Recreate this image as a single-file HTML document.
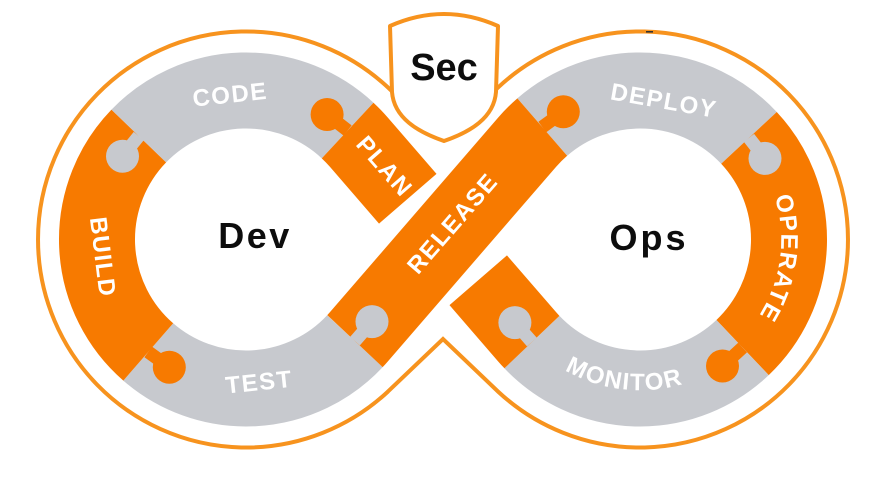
<!DOCTYPE html>
<html>
<head>
<meta charset="utf-8">
<style>
  html,body{margin:0;padding:0;background:#ffffff;}
  svg{display:block;}
  .lbl{font-family:"Liberation Sans",Arial,sans-serif;font-weight:bold;font-size:24px;fill:#ffffff;letter-spacing:1.5px;}
  .big{font-family:"Liberation Sans",Arial,sans-serif;font-weight:bold;fill:#0d0d0d;}
</style>
</head>
<body>
<svg width="872" height="482" viewBox="0 0 872 482" xmlns="http://www.w3.org/2000/svg">
  <rect x="0" y="0" width="872" height="482" fill="#ffffff"/>

  <!-- outer outline -->
  <path d="M387.9,391.6 A208,208 0 1 1 387.9,87.4 L443,140 L498.1,87.4 A208,208 0 1 1 498.1,391.6 L443,339 Z"
        fill="#ffffff" stroke="#f7931e" stroke-width="4" stroke-linejoin="miter"/>
  <rect x="646" y="31" width="7" height="1.6" fill="#333"/>

  <g fill="none" stroke-width="76" stroke-linecap="butt">
    <!-- left ring -->
    <path d="M354.97,341.12 A149,149 0 0 1 148.25,351.95" stroke="#c7c9ce"/>
    <path d="M148.25,351.95 A149,149 0 0 1 138.8,136.0" stroke="#f77a00"/>
    <path d="M138.8,136.0 A149,149 0 0 1 347.62,130.53" stroke="#c7c9ce"/>
    <path d="M347.62,130.53 A149,149 0 0 1 358.7,142.0 L407.77,198.72" stroke="#f77a00"/>
    <!-- right ring -->
    <path d="M542.25,127.05 A149,149 0 0 1 748.97,137.88" stroke="#c7c9ce"/>
    <path d="M748.97,137.88 A149,149 0 0 1 742.57,347.58" stroke="#f77a00"/>
    <path d="M742.57,347.58 A149,149 0 0 1 531.92,342.07" stroke="#c7c9ce"/>
    <path d="M531.92,342.07 A149,149 0 0 1 527.3,337.0 L478.23,280.28" stroke="#f77a00"/>
    <!-- release (over strand) -->
    <path d="M354.97,341.12 A149,149 0 0 0 358.7,337.0 L527.3,142.0 A149,149 0 0 1 542.25,127.05" stroke="#f77a00"/>
  </g>

  <!-- puzzle knobs -->
  <g stroke-width="13" stroke-linecap="butt">
    <line x1="138.8" y1="136.0" x2="122.5" y2="156.2" stroke="#c7c9ce"/>
    <circle cx="122.5" cy="156.2" r="16.5" fill="#c7c9ce" stroke="none"/>

    <line x1="148.25" y1="351.95" x2="169.3" y2="367.2" stroke="#f77a00"/>
    <circle cx="169.3" cy="367.2" r="16.5" fill="#f77a00" stroke="none"/>

    <line x1="347.62" y1="130.53" x2="327.1" y2="114.5" stroke="#f77a00"/>
    <circle cx="327.1" cy="114.5" r="16.5" fill="#f77a00" stroke="none"/>

    <line x1="354.97" y1="341.12" x2="372" y2="321.6" stroke="#c7c9ce"/>
    <circle cx="372" cy="321.6" r="16.5" fill="#c7c9ce" stroke="none"/>

    <line x1="542.25" y1="127.05" x2="563.3" y2="111.8" stroke="#f77a00"/>
    <circle cx="563.3" cy="111.8" r="16.5" fill="#f77a00" stroke="none"/>

    <line x1="748.97" y1="137.88" x2="765" y2="158.4" stroke="#c7c9ce"/>
    <circle cx="765" cy="158.4" r="16.5" fill="#c7c9ce" stroke="none"/>

    <line x1="742.57" y1="347.58" x2="722.5" y2="366" stroke="#f77a00"/>
    <circle cx="722.5" cy="366" r="16.5" fill="#f77a00" stroke="none"/>

    <line x1="531.92" y1="342.07" x2="514.9" y2="322.6" stroke="#c7c9ce"/>
    <circle cx="514.9" cy="322.6" r="16.5" fill="#c7c9ce" stroke="none"/>
  </g>

  <defs>
    <path id="pMon" d="M514.3,322.7 A150.75,150.75 0 0 0 743.8,348.8"/>
    <path id="pOpe" d="M744.3,144.3 A141.25,141.25 0 0 1 715.7,358.7"/>
  </defs>

  <!-- segment labels -->
  <text class="lbl" transform="translate(230,94) rotate(-6)" x="0" y="8.7" text-anchor="middle">CODE</text>
  <text class="lbl" transform="translate(664,100) rotate(10)" x="0" y="8.7" text-anchor="middle">DEPLOY</text>
  <text class="lbl" transform="translate(259,381.5) rotate(-6)" x="0" y="8.7" text-anchor="middle">TEST</text>
  <text class="lbl" transform="translate(103.5,257) rotate(83)" x="0" y="8.7" text-anchor="middle">BUILD</text>
  <text class="lbl" transform="translate(385,166) rotate(49)" x="0" y="8.7" text-anchor="middle">PLAN</text>
  <text class="lbl" transform="translate(452,223) rotate(-49)" x="0" y="8.7" text-anchor="middle">RELEASE</text>
  <text class="lbl"><textPath href="#pMon" startOffset="50%" text-anchor="middle">MONITOR</textPath></text>
  <text class="lbl"><textPath href="#pOpe" startOffset="50%" text-anchor="middle">OPERATE</textPath></text>

  <!-- center words -->
  <text class="big" x="255" y="248" font-size="36" letter-spacing="2.5" text-anchor="middle">Dev</text>
  <text class="big" x="649" y="250" font-size="36" letter-spacing="3" text-anchor="middle">Ops</text>

  <!-- Sec shield -->
  <path d="M390,26 Q444,2 498,26 L496,92 C494,118 470,132 444,141 C418,132 394,118 392,92 Z"
        fill="#ffffff" stroke="#f7931e" stroke-width="4" stroke-linejoin="round"/>
  <text class="big" x="444" y="80" font-size="38" text-anchor="middle">Sec</text>
</svg>
</body>
</html>
